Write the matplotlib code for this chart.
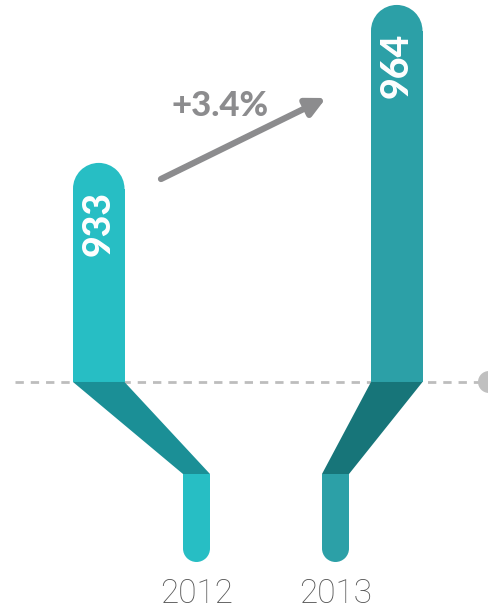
import numpy as np
import matplotlib.pyplot as plt
from matplotlib.patches import Ellipse, Polygon, Rectangle

# valores de los dos años
years = ['2012', '2013']
values = [933, 964]
change_label = '+3.4%'
base = 890  # el eje arranca aqui, no en cero

bar_colors = ['#27bec4', '#2ca0a7']
fold_colors = ['#1b8f96', '#177579']

# posiciones en pixeles (x) de cada columna y del tramo inferior
bar_x = [73, 371]
bar_w = 51.5
stub_x = [183, 322]
stub_w = 27
fold_px = 92
stub_px = 88

W, H = 489, 612
fig = plt.figure(figsize=(W / 100, H / 100), dpi=100)
ax = fig.add_axes([0, 0, 1, 1])
ax.set_xlim(0, W)
ax.set_ylim(844.86, 964.97)
ax.axis('off')

k = H / (ax.get_ylim()[1] - ax.get_ylim()[0])  # pixeles por unidad en y

def rounded_bar(x, w, y0, y1, color, top=True):
    # barra con un extremo redondeado (circulo en pixeles)
    ry = (w / 2) / k
    if top:
        ax.add_patch(Rectangle((x, y0), w, y1 - y0 - ry, color=color, lw=0))
        ax.add_patch(Ellipse((x + w / 2, y1 - ry), w, 2 * ry, color=color, lw=0))
    else:
        ax.add_patch(Rectangle((x, y0 + ry), w, y1 - y0 - ry, color=color, lw=0))
        ax.add_patch(Ellipse((x + w / 2, y0 + ry), w, 2 * ry, color=color, lw=0))

# linea base punteada
ax.plot([15, W], [base, base], ls=(0, (3, 2.5)), color='#bdbdbd', lw=2, zorder=1)
ax.add_patch(Ellipse((W, base), 22, 22 / k, color='#c0c0c0', lw=0, zorder=1))

y_fold = base - fold_px / k
y_stub = y_fold - stub_px / k
for i, v in enumerate(values):
    x0 = bar_x[i]
    sx = stub_x[i]
    rounded_bar(x0, bar_w, base, v, bar_colors[i])
    ax.add_patch(Polygon([(x0, base), (x0 + bar_w, base),
                          (sx + stub_w, y_fold), (sx, y_fold)],
                         closed=True, color=fold_colors[i], lw=0))
    rounded_bar(sx, stub_w, y_stub, y_fold, bar_colors[i], top=False)
    ax.text(x0 + bar_w / 2, v - 28 / k, str(v), rotation=90, ha='center', va='top',
            color='white', fontsize=27, fontweight='black', family='Lato')
    ax.text(sx + stub_w / 2, y_stub - 16 / k, years[i], ha='center', va='top',
            color='#555555', fontsize=24, fontweight='light', family='Roboto')

# flecha de variacion
ax.annotate('', xy=(326, H - 98), xytext=(161, H - 179),
            xycoords='figure pixels', textcoords='figure pixels',
            arrowprops=dict(arrowstyle='-|>', color='#8c8c8e', lw=4.5,
                            mutation_scale=28, shrinkA=0, shrinkB=0))
fig.text(220 / W, 1 - 106 / H, change_label, ha='center', va='center',
         color='#8c8c8e', fontsize=25, fontweight='black', family='Lato')

fig.savefig('out.png', dpi=100)
